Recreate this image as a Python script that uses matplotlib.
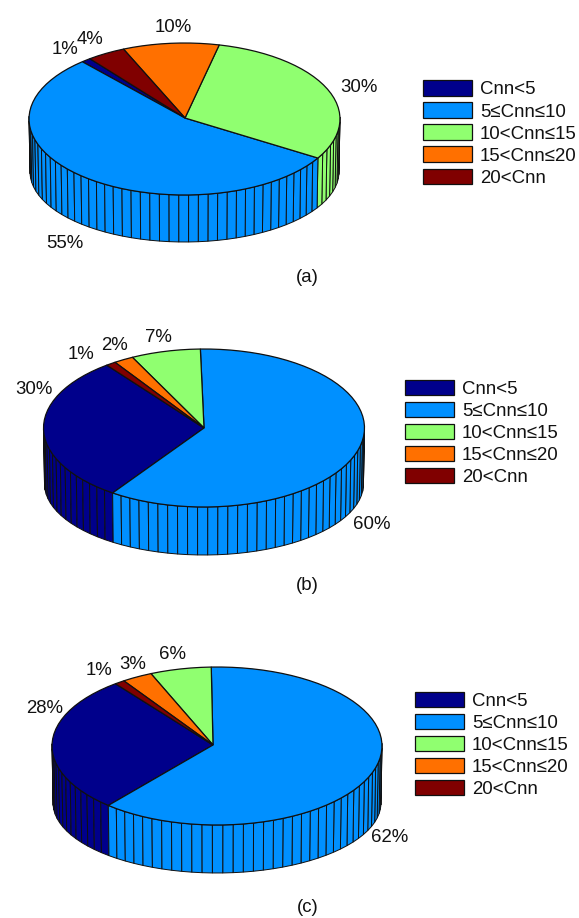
import matplotlib
matplotlib.use("Agg")
import matplotlib.pyplot as plt
import numpy as np
from matplotlib.patches import Polygon, Patch

plt.rcParams["font.family"] = ["Liberation Sans", "DejaVu Sans"]

W, H = 579, 918

# ---------- data (percent per class) ----------
classes = ["Cnn<5", "5≤Cnn≤10", "10<Cnn≤15", "15<Cnn≤20", "20<Cnn"]
colors = ["#00008B", "#0090FF", "#90FF70", "#FF7000", "#800000"]
values_a = [1, 55, 30, 10, 4]
values_b = [30, 60, 7, 2, 1]
values_c = [28, 62, 6, 3, 1]

# ---------- layout, in pixels of the picture ----------
# cx, cy, a, b: top ellipse; cy2, a2, b2: bottom ellipse (slight perspective)
# start: angle of first slice; apex: pie centre seen off the ellipse centre
geo_a = dict(cx=184.5, cy=119, a=155.5, b=76, cy2=172, a2=154.5, b2=70, start=127.5, apex=(0.5, -1))
geo_b = dict(cx=204, cy=428, a=160.5, b=79, cy2=484, a2=159.5, b2=71, start=127.3, apex=(0, 0))
geo_c = dict(cx=217, cy=746, a=165, b=79, cy2=803, a2=164, b2=70, start=128.0, apex=(-4, -1))

label_pos_a = [(65, 50), (65, 243.5), (359, 88), (173, 28), (90, 40)]
label_pos_b = [(34, 389.5), (372, 524.5), (158, 337.5), (115, 345.5), (81, 354.5)]
label_pos_c = [(45, 708.5), (390, 838), (173, 654.5), (133, 664.5), (99, 670.5)]

legend_a = (423, 133.5)
legend_b = (405, 433)
legend_c = (415, 745)

FS = 13.4


def px(x, y):
    return x / W, 1 - y / H


def draw_pie(fig, values, geo, label_pos, legend_xy, caption, caption_xy):
    cx, cy, a, b = geo["cx"], geo["cy"], geo["a"], geo["b"]
    cy2, a2, b2 = geo["cy2"], geo["a2"], geo["b2"]
    bottom = cy2 + b2
    x0, y0 = px(cx - a, bottom)
    ax = fig.add_axes([x0, y0, 2 * a / W, (bottom - (cy - b)) / H])
    ax.set_xlim(-a, a)
    ax.set_ylim(cy - bottom, b)
    ax.axis("off")

    # slices run counter clockwise, one wall facet per percent
    walls = []
    tops = []
    th0 = geo["start"]
    for v, col in zip(values, colors):
        sweep = 360.0 * v / sum(values)
        th = np.deg2rad(np.linspace(th0, th0 + sweep, v + 1))
        xt, yt = a * np.cos(th), b * np.sin(th)
        xb, yb = a2 * np.cos(th), cy - cy2 + b2 * np.sin(th)
        for i in range(v):
            mid = 0.5 * (th[i] + th[i + 1])
            if np.sin(mid) < 0.05:
                pts = [(xt[i], yt[i]), (xt[i + 1], yt[i + 1]), (xb[i + 1], yb[i + 1]), (xb[i], yb[i])]
                walls.append((np.sin(mid), pts, col))
        tops.append((np.r_[geo["apex"][0], xt], np.r_[-geo["apex"][1], yt], col))
        th0 += sweep

    # back to front
    for _, pts, col in sorted(walls, key=lambda w: -w[0]):
        ax.add_patch(Polygon(pts, closed=True, fc=col, ec="#101010", lw=0.7, clip_on=False))
    for xs, ys, col in tops:
        ax.add_patch(Polygon(np.c_[xs, ys], closed=True, fc=col, ec="#101010", lw=0.9, clip_on=False, zorder=3))

    for v, (lx, ly) in zip(values, label_pos):
        tx, ty = px(lx, ly)
        fig.text(tx, ty, f"{v}%", fontsize=FS, ha="center", va="center", color="#111111")

    cap_x, cap_y = px(*caption_xy)
    fig.text(cap_x, cap_y, caption, fontsize=FS, ha="center", va="center", color="#111111")

    handles = [Patch(fc=c, ec="#101010", lw=0.9) for c in colors]
    fig.legend(handles, classes, loc="center left", bbox_to_anchor=px(*legend_xy), frameon=False,
               fontsize=FS, borderpad=0, borderaxespad=0, handlelength=2.63, handleheight=0.9,
               labelspacing=0.21, handletextpad=0.43, labelcolor="#111111")


fig = plt.figure(figsize=(W / 100, H / 100), dpi=100)
draw_pie(fig, values_a, geo_a, label_pos_a, legend_a, "(a)", (307, 278))
draw_pie(fig, values_b, geo_b, label_pos_b, legend_b, "(b)", (307, 585))
draw_pie(fig, values_c, geo_c, label_pos_c, legend_c, "(c)", (308, 907))
fig.savefig("out.png", dpi=100)
